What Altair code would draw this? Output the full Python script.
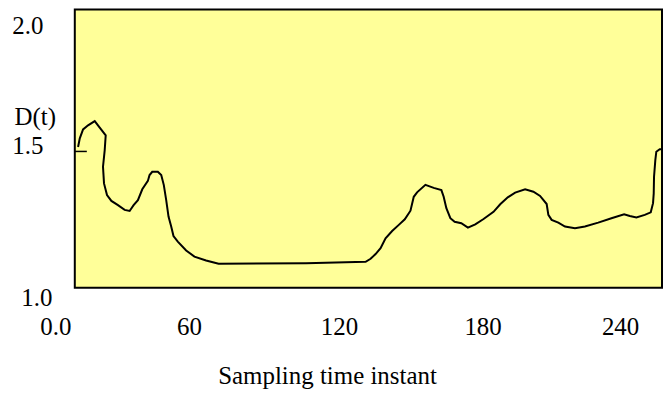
import altair as alt
import pandas as pd

# Sampling time instant (x) and D(t) (y)
t = [1.42, 2.16, 3.58, 5.74, 8.62, 10.78, 13.37, 12.94, 12.20, 12.64, 13.93, 15.83,
     18.67, 21.56, 23.72, 25.44, 27.30, 29.19, 31.61, 32.34, 33.51, 35.92, 37.39,
     38.51, 39.54, 40.54, 41.70, 42.69, 44.55, 48.17, 51.75, 56.79, 62.2, 100.0,
     125.8, 127.95, 130.11, 132.26, 134.42, 137.27, 140.15, 142.74, 145.20, 146.62,
     148.05, 151.67, 155.25, 158.57, 159.56, 160.72, 162.45, 164.30, 167.19, 170.04,
     173.23, 176.81, 181.12, 184.01, 187.29, 190.48, 194.79, 198.37, 201.26, 204.11,
     204.84, 206.26, 209.15, 212.04, 216.35, 220.66, 226.40, 232.13, 237.61, 240.07,
     242.92, 246.54, 249.13, 250.12, 250.42, 250.55, 251.11, 251.54, 253.01, 254.0]
d = [1.506, 1.537, 1.569, 1.584, 1.599, 1.576, 1.548, 1.495, 1.435, 1.375, 1.333, 1.312,
     1.297, 1.280, 1.276, 1.297, 1.315, 1.354, 1.384, 1.405, 1.417, 1.417, 1.405,
     1.369, 1.315, 1.256, 1.220, 1.186, 1.166, 1.134, 1.112, 1.098, 1.086, 1.088,
     1.093, 1.104, 1.121, 1.142, 1.178, 1.204, 1.226, 1.246, 1.277, 1.327,
     1.343, 1.370, 1.359, 1.351, 1.327, 1.286, 1.250, 1.237, 1.232, 1.216,
     1.228, 1.247, 1.273, 1.300, 1.325, 1.342, 1.354, 1.345, 1.330, 1.301,
     1.262, 1.244, 1.234, 1.220, 1.214, 1.220, 1.234, 1.250, 1.264, 1.258,
     1.253, 1.262, 1.271, 1.304, 1.339, 1.399, 1.459, 1.489, 1.498, 1.498]

# short inward tick mark near 1.5 on the y axis
tick_t = [0.0]
tick_t2 = [5.2]
tick_d = [1.49]

x_ticks = [0, 60, 120, 180, 240]
y_ticks = [1.0, 1.5, 2.0]

df = pd.DataFrame({"t": t, "d": d, "i": list(range(len(t)))})
df_tick = pd.DataFrame({"t": tick_t, "t2": tick_t2, "d": tick_d})

FONT = "Liberation Serif"

x_scale = alt.Scale(domain=[0, 254], nice=False, zero=False)
y_scale = alt.Scale(domain=[1.0, 2.0], nice=False, zero=False)

x_axis = alt.Axis(values=x_ticks, title="Sampling time instant",
                  labelExpr="datum.value == 0 ? '0.0' : datum.label",
                  grid=False, ticks=False, domain=False,
                  labelFlush=False, labelOverlap=False,
                  labelBaseline="alphabetic", labelPadding=47,
                  labelOffset={"condition": [
                      {"test": "datum.value == 0", "value": -19.5},
                      {"test": "datum.value == 60", "value": -24.6},
                      {"test": "datum.value == 120", "value": -13.3},
                      {"test": "datum.value == 180", "value": -8.4}],
                      "value": -9.6},
                  titleX=253, titleY=96, titleAlign="center",
                  titleBaseline="alphabetic")

y_axis = alt.Axis(values=y_ticks, format=".1f", title="D(t)",
                  grid=False, ticks=False, domain=False,
                  labelFlush=False, labelOverlap=False,
                  labelAlign="right", labelBaseline="middle",
                  labelPadding={"condition": {"test": "datum.value == 1", "value": 23},
                                "value": 32},
                  labelOffset={"condition": [
                      {"test": "datum.value == 2", "value": 15.5},
                      {"test": "datum.value == 1", "value": 10}],
                      "value": -3.5},
                  titleAngle=0, titleX=-61, titleY=115,
                  titleAlign="left", titleBaseline="alphabetic")

line = alt.Chart(df).mark_line(color="black", strokeWidth=2).encode(
    x=alt.X("t:Q", scale=x_scale, axis=x_axis),
    y=alt.Y("d:Q", scale=y_scale, axis=y_axis),
    order="i:Q",
)

tick = alt.Chart(df_tick).mark_rule(color="black", strokeWidth=1.5).encode(
    x=alt.X("t:Q", scale=x_scale),
    x2="t2:Q",
    y=alt.Y("d:Q", scale=y_scale),
)

chart = alt.layer(line, tick).properties(
    width=589, height=279,
    autosize=alt.AutoSizeParams(type="none"),
    padding={"left": 67, "top": 1, "right": 2, "bottom": 107},
    background="white",
).configure_view(
    fill="#FFFF99", stroke="black", strokeWidth=2
).configure_axis(
    labelFont=FONT, titleFont=FONT, labelFontSize=25, titleFontSize=25,
    labelColor="black", titleColor="black", titleFontWeight="normal",
)

chart.save("out.html", embed_options={"renderer": "svg", "actions": False})
